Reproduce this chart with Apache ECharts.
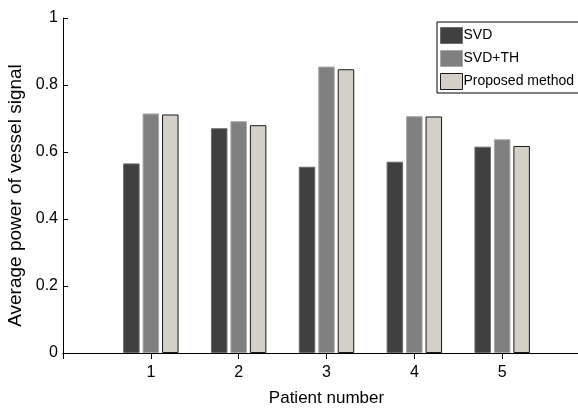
<!DOCTYPE html>
<html>
<head>
<meta charset="utf-8">
<style>
  html, body { margin: 0; padding: 0; width: 100%; height: 100%; overflow: hidden; background: #fff; }
</style>
<script src="https://cdn.jsdelivr.net/npm/echarts@6/dist/echarts.min.js"></script>
</head>
<body>
<div id="container" style="width:578px;height:408px;"></div>
<script>
// patient numbers and series values
var patients = ['1', '2', '3', '4', '5'];
var svd = [0.566, 0.671, 0.556, 0.571, 0.616];
var svdTh = [0.715, 0.692, 0.855, 0.707, 0.638];
var proposed = [0.712, 0.680, 0.847, 0.706, 0.618];
var yTicks = [0, 0.2, 0.4, 0.6, 0.8, 1];

// axis runs from 0 to 6, patients sit at 1..5
var cats = [''].concat(patients, ['']);
function pad(arr) { return [null].concat(arr, [null]); }

var chart = echarts.init(document.getElementById('container'), null, { renderer: 'canvas' });
var font = 'Liberation Sans, Arial, sans-serif';

var xBase = {
  type: 'category',
  data: cats,
  boundaryGap: false,
  axisLine: { lineStyle: { color: '#000', width: 1 } },
  axisTick: { inside: true, length: 6, lineStyle: { color: '#000' } },
  splitLine: { show: false }
};
var yBase = {
  type: 'value',
  min: yTicks[0],
  max: yTicks[yTicks.length - 1],
  interval: 0.2,
  axisLine: { show: true, lineStyle: { color: '#000', width: 1 } },
  axisTick: { show: true, inside: true, length: 5, lineStyle: { color: '#000' } },
  splitLine: { show: false }
};

function bar(name, data, color, border) {
  return {
    name: name,
    type: 'bar',
    data: pad(data),
    barWidth: 16.5,
    barGap: '18%',
    itemStyle: { color: color, borderColor: border, borderWidth: 1 }
  };
}

var option = {
  animation: false,
  textStyle: { fontFamily: font },
  grid: { left: 63, top: 18, bottom: 55, width: 527, containLabel: false, outerBoundsMode: 'none' },
  legend: {
    orient: 'vertical',
    left: 437,
    top: 22,
    padding: [5, 20, 3, 3],
    itemWidth: 22,
    itemHeight: 16,
    itemGap: 6,
    icon: 'rect',
    backgroundColor: '#fff',
    borderColor: '#000',
    borderWidth: 1,
    borderRadius: 0,
    itemStyle: { borderWidth: 1 },
    textStyle: { fontFamily: font, fontSize: 14, color: '#000', padding: [0, 0, 0, -4] },
    data: ['SVD', 'SVD+TH', 'Proposed method']
  },
  xAxis: [
    Object.assign({}, xBase, {
      position: 'bottom',
      name: 'Patient number',
      nameLocation: 'middle',
      nameGap: 37,
      axisTick: { show: false },
      nameTextStyle: { fontFamily: font, fontSize: 17, color: '#000' },
      axisLabel: { color: '#000', fontSize: 16, margin: 12, fontFamily: font }
    }),
    Object.assign({}, xBase, {
      position: 'top',
      axisLabel: { show: false }
    })
  ],
  yAxis: [
    Object.assign({}, yBase, {
      position: 'left',
      name: 'Average power of vessel signal',
      nameLocation: 'middle',
      nameGap: 26,
      nameTextStyle: { fontFamily: font, fontSize: 19, color: '#000', padding: [0, 20, 0, 0] },
      axisLabel: {
        color: '#000', fontSize: 16, margin: 5, fontFamily: font,
        formatter: function (v) { return String(+v.toFixed(1)); }
      }
    }),
    Object.assign({}, yBase, {
      position: 'right',
      axisLabel: { show: false }
    })
  ],
  series: [
    bar('SVD', svd, '#404040', '#6b6b6b'),
    bar('SVD+TH', svdTh, '#808080', '#a8a8a8'),
    bar('Proposed method', proposed, '#d4d0c8', '#1a1a1a')
  ]
};

chart.setOption(option);
</script>
</body>
</html>
